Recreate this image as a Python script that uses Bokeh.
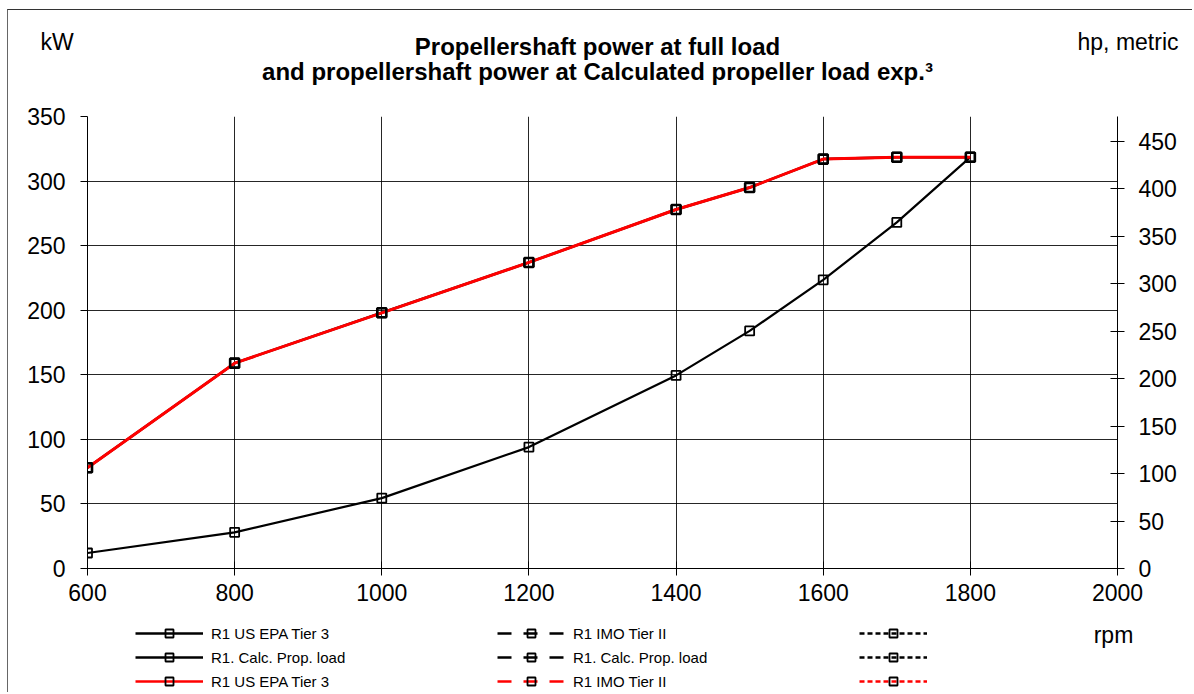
from bokeh.plotting import figure
from bokeh.layouts import column
from bokeh.models import (Range1d, LinearAxis, FixedTicker, Label, Legend, LegendItem,
                          ColumnDataSource)
from bokeh.embed import file_html
from bokeh.resources import INLINE

# ---- data ----
rpm = [600, 800, 1000, 1200, 1400, 1500, 1600, 1700, 1800]
full_load_kw = [78, 159, 198, 237, 278, 295, 317, 318.5, 318.5]
prop_load_kw = [12, 28, 54.5, 94, 149.5, 184, 223.5, 268, 318.5]

x_ticks = [600, 800, 1000, 1200, 1400, 1600, 1800, 2000]
kw_ticks = [0, 50, 100, 150, 200, 250, 300, 350]
hp_ticks = [0, 50, 100, 150, 200, 250, 300, 350, 400, 450]
KW_TO_HP = 1.35962

title_1 = "Propellershaft power at full load"
title_2 = "and propellershaft power at Calculated propeller load exp.\u00b3"
left_unit = "kW"
right_unit = "hp, metric"
x_unit = "rpm"

legend_col1 = ["R1 US EPA Tier 3", "R1. Calc. Prop. load", "R1 US EPA Tier 3"]
legend_col2 = ["R1 IMO Tier II", "R1. Calc. Prop. load", "R1 IMO Tier II"]
legend_col3 = [" ", " ", " "]
legend_colors = ["black", "black", "red"]

FONT = "Liberation Sans"
NAN = float("nan")

# content origin on the page (inside the 1px outer border)
OX, OY = 8, 10
W = 1184
HH, HM, HF = 90, 520, 72          # header, main, footer heights
SHIFT = 7                          # baseline correction for labels


def plain_fig(h):
    f = figure(width=W, height=h, output_backend="svg", toolbar_location=None,
               x_range=Range1d(0, W), y_range=Range1d(0, h),
               x_axis_type=None, y_axis_type=None,
               min_border=0, min_border_left=0, min_border_right=0,
               min_border_top=0, min_border_bottom=0, frame_align=False)
    f.outline_line_color = None
    f.grid.visible = False
    return f


# ---------------- header (titles) ----------------
hdr = plain_fig(HH)

def hx(px):
    return px - OX

def hy(py):
    return HH - (py - OY) + SHIFT

hdr.add_layout(Label(x=hx(597), y=hy(53), text=title_1, text_align="center",
                     text_baseline="alphabetic", text_font=FONT, text_font_size="24px",
                     text_font_style="bold", text_color="black"))
hdr.add_layout(Label(x=hx(597), y=hy(78), text=title_2, text_align="center",
                     text_baseline="alphabetic", text_font=FONT, text_font_size="24px",
                     text_font_style="bold", text_color="black"))
hdr.add_layout(Label(x=hx(40), y=hy(48), text=left_unit, text_align="left",
                     text_baseline="alphabetic", text_font=FONT, text_font_size="23px",
                     text_color="black"))
hdr.add_layout(Label(x=hx(1178), y=hy(48), text=right_unit, text_align="right",
                     text_baseline="alphabetic", text_font=FONT, text_font_size="23px",
                     text_color="black"))

# ---------------- main plot ----------------
MAIN_TOP = OY + HH   # page y of main figure top
p = figure(width=W, height=HM, output_backend="svg", toolbar_location=None,
           x_range=Range1d(600, 2000), y_range=Range1d(0, 350),
           min_border_left=87 - OX, min_border_right=W - (1117 - OX),
           min_border_top=116 - MAIN_TOP, min_border_bottom=HM - (568 - MAIN_TOP),
           background_fill_color="white", border_fill_color="white", frame_align=False)
p.outline_line_color = None
p.extra_y_ranges = {"hp": Range1d(0, 350 * KW_TO_HP)}

for ax in [p.xaxis[0], p.yaxis[0]]:
    ax.axis_line_color = "black"
    ax.major_tick_line_color = "black"
    ax.minor_tick_line_color = None
    ax.major_label_text_font = FONT
    ax.major_label_text_font_size = "23px"
    ax.major_label_text_color = "black"

p.xaxis.ticker = FixedTicker(ticks=x_ticks)
p.xaxis.major_tick_in = 7
p.xaxis.major_tick_out = 7
p.xaxis.major_label_standoff = 8

p.yaxis.ticker = FixedTicker(ticks=kw_ticks)
p.yaxis.major_tick_in = 0
p.yaxis.major_tick_out = 7
p.yaxis.major_label_standoff = 15

ra = LinearAxis(y_range_name="hp", ticker=FixedTicker(ticks=hp_ticks))
ra.axis_line_color = "black"
ra.major_tick_line_color = "black"
ra.minor_tick_line_color = None
ra.major_tick_in = 7
ra.major_tick_out = 7
ra.major_label_standoff = 14
ra.major_label_text_font = FONT
ra.major_label_text_font_size = "23px"
ra.major_label_text_color = "black"
p.add_layout(ra, "right")

p.xgrid.ticker = FixedTicker(ticks=x_ticks)
p.ygrid.ticker = FixedTicker(ticks=kw_ticks)
for g in [p.xgrid[0], p.ygrid[0]]:
    g.grid_line_color = "black"
    g.grid_line_width = 1
    g.grid_line_alpha = 0.85

src_full = ColumnDataSource(dict(x=rpm, y=full_load_kw))
src_prop = ColumnDataSource(dict(x=rpm, y=prop_load_kw))

p.line("x", "y", source=src_full, line_color="black", line_width=2.5)
p.scatter("x", "y", source=src_full, marker="square", size=9,
          line_color="black", line_width=1.8, fill_alpha=0)
p.line("x", "y", source=src_prop, line_color="black", line_width=2.2)
p.scatter("x", "y", source=src_prop, marker="square", size=9,
          line_color="black", line_width=1.8, fill_alpha=0)
p.line("x", "y", source=src_full, line_color="red", line_width=3)
p.scatter("x", "y", source=src_full, marker="square", size=9,
          line_color="black", line_width=2.6, fill_alpha=0)

# ---------------- footer (legend + rpm) ----------------
FOOT_TOP = MAIN_TOP + HM
ftr = plain_fig(HF)

def legend_pair(color, dash):
    # legend swatch only: a single missing value, so nothing is drawn in the frame
    s = ColumnDataSource(dict(x=[NAN], y=[NAN]))
    l = ftr.line("x", "y", source=s, line_color=color, line_width=2.5, line_dash=dash)
    m = ftr.scatter("x", "y", source=s, marker="square", size=9, line_color="black",
                    line_width=1.8, fill_alpha=0)
    return [l, m]

columns = [(legend_col1, "solid", 135), (legend_col2, "14 12", 497), (legend_col3, "5 3", 859)]
LEG_H = 3 * 20 + 2 * 4
for labels, dash, px in columns:
    items = [LegendItem(label=lab, renderers=legend_pair(c, dash))
             for lab, c in zip(labels, legend_colors)]
    vy = (FOOT_TOP + HF) - (623 + LEG_H)
    lg = Legend(items=items, location=(px - OX, vy), orientation="vertical",
                glyph_width=68, glyph_height=20, label_height=20, spacing=4,
                padding=0, margin=0, label_standoff=8,
                label_text_font=FONT, label_text_font_size="15px", label_text_color="black",
                border_line_alpha=0, background_fill_alpha=0)
    ftr.add_layout(lg, "center")

ftr.add_layout(Label(x=1113 - OX, y=(FOOT_TOP + HF) - 641 + SHIFT, text=x_unit,
                     text_align="center", text_baseline="alphabetic", text_font=FONT,
                     text_font_size="23px", text_color="black"))

layout = column(hdr, p, ftr, spacing=0, margin=(OY - 1, 0, 0, OX - 1),
                styles={"border-left": "1px solid #666666", "border-top": "1px solid #333333"})

open("out.html", "w").write(file_html(layout, INLINE))
